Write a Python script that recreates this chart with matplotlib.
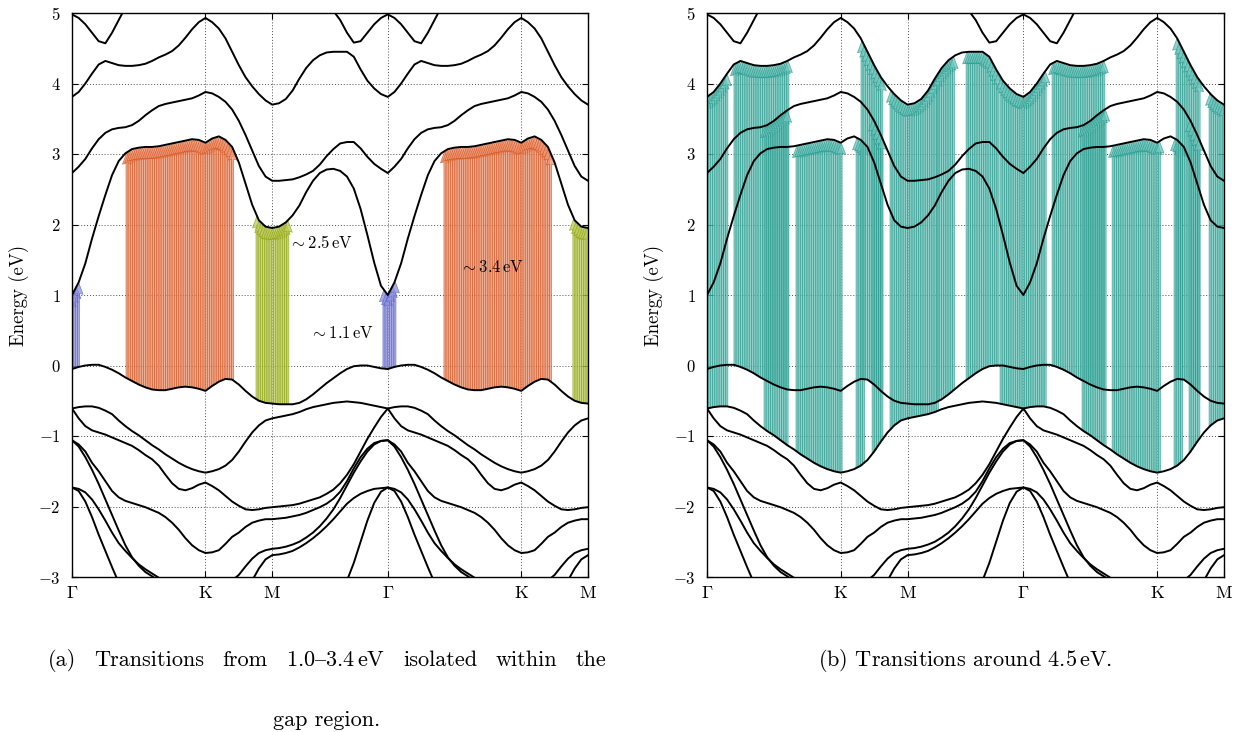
import numpy as np
import matplotlib
matplotlib.use("Agg")
import matplotlib.pyplot as plt

plt.rcParams['mathtext.fontset'] = 'cm'
plt.rcParams['font.family'] = ['cmr10', 'DejaVu Serif']
plt.rcParams['axes.unicode_minus'] = False

# ---------------------------------------------------------------------------
# Band energies (eV) along the hexagonal path.  Γ–K has length 1.
# Leg 1: Γ → K → M  (k = 0 ... 1.5, step 0.05)
# Leg 2: M → Γ      (k = 0 ... 0.866, 18 samples)
# ---------------------------------------------------------------------------
k_gkm = np.linspace(0.0, 1.5, 31)
k_mg = np.linspace(0.0, 0.866, 18)

cb4_gkm = [4.98, 4.93, 4.84, 4.72, 4.60, 4.57, 4.72, 4.90, 5.08, 5.25, 5.35, 5.40, 5.42, 5.44,
           5.46, 5.48, 5.50, 5.52, 5.54, 5.56, 5.58, 5.58, 5.58, 5.58, 5.58, 5.58, 5.58, 5.58,
           5.58, 5.58, 5.60]
cb4_mg = [5.60, 5.55, 5.50, 5.45, 5.40, 5.35, 5.30, 5.20, 5.10, 5.03, 4.90, 4.72, 4.58, 4.60,
          4.72, 4.84, 4.93, 4.98]

cb3_gkm = [3.81, 3.88, 4.00, 4.14, 4.27, 4.32, 4.29, 4.26, 4.25, 4.25, 4.26, 4.28, 4.32, 4.37,
           4.41, 4.46, 4.54, 4.65, 4.77, 4.87, 4.93, 4.87, 4.78, 4.64, 4.45, 4.26, 4.09, 3.96,
           3.85, 3.76, 3.70]
cb3_mg = [3.70, 3.72, 3.78, 3.90, 4.07, 4.22, 4.33, 4.40, 4.44, 4.45, 4.45, 4.45, 4.38, 4.20,
          4.04, 3.93, 3.85, 3.81]

cb2_gkm = [2.73, 2.82, 2.93, 3.08, 3.21, 3.30, 3.35, 3.37, 3.38, 3.41, 3.47, 3.55, 3.62, 3.68,
           3.71, 3.73, 3.75, 3.77, 3.79, 3.83, 3.88, 3.86, 3.81, 3.74, 3.63, 3.47, 3.27, 3.05,
           2.83, 2.68, 2.62]
cb2_mg = [2.62, 2.62, 2.63, 2.64, 2.67, 2.71, 2.76, 2.85, 2.97, 3.07, 3.15, 3.17, 3.17, 3.08,
          2.96, 2.86, 2.79, 2.73]

cb1_gkm = [1.00, 1.18, 1.45, 1.80, 2.12, 2.42, 2.70, 2.90, 3.01, 3.07, 3.09, 3.10, 3.10, 3.11,
           3.13, 3.15, 3.17, 3.19, 3.21, 3.20, 3.16, 3.22, 3.25, 3.20, 3.10, 2.88, 2.58, 2.28,
           2.06, 1.97, 1.95]
cb1_mg = [1.95, 1.97, 2.03, 2.13, 2.27, 2.46, 2.62, 2.73, 2.78, 2.79, 2.76, 2.68, 2.51, 2.22,
          1.85, 1.46, 1.13, 1.00]

vb1_gkm = [-0.05, -0.02, 0.00, 0.01, 0.01, -0.02, -0.06, -0.11, -0.17, -0.22, -0.27, -0.31,
           -0.34, -0.35, -0.35, -0.33, -0.31, -0.30, -0.31, -0.33, -0.36, -0.29, -0.23, -0.19,
           -0.20, -0.27, -0.36, -0.44, -0.50, -0.53, -0.54]
vb1_mg = [-0.54, -0.55, -0.55, -0.55, -0.53, -0.48, -0.41, -0.33, -0.25, -0.18, -0.11, -0.05,
          -0.01, 0.00, 0.00, -0.02, -0.04, -0.05]

vb2_gkm = [-0.61, -0.59, -0.58, -0.58, -0.60, -0.64, -0.69, -0.78, -0.86, -0.93, -0.99, -1.06,
           -1.13, -1.19, -1.26, -1.32, -1.38, -1.43, -1.47, -1.50, -1.52, -1.50, -1.47, -1.42,
           -1.34, -1.22, -1.08, -0.95, -0.85, -0.78, -0.75]
vb2_mg = [-0.75, -0.73, -0.71, -0.69, -0.66, -0.62, -0.59, -0.57, -0.55, -0.53, -0.52, -0.51,
          -0.52, -0.53, -0.55, -0.57, -0.59, -0.61]

vb3_gkm = [-0.61, -0.75, -0.86, -0.92, -0.95, -0.98, -1.02, -1.06, -1.10, -1.14, -1.20, -1.27,
           -1.33, -1.42, -1.55, -1.67, -1.75, -1.77, -1.74, -1.69, -1.66, -1.71, -1.77, -1.85,
           -1.93, -1.99, -2.04, -2.05, -2.04, -2.02, -2.01]
vb3_mg = [-2.01, -2.00, -1.99, -1.98, -1.96, -1.93, -1.90, -1.87, -1.82, -1.76, -1.67, -1.55,
          -1.40, -1.22, -1.04, -0.88, -0.73, -0.61]

vb4_gkm = [-1.06, -1.12, -1.22, -1.38, -1.50, -1.64, -1.78, -1.87, -1.92, -1.95, -1.98, -2.01,
           -2.05, -2.09, -2.15, -2.23, -2.33, -2.45, -2.55, -2.62, -2.66, -2.65, -2.62, -2.53,
           -2.43, -2.37, -2.29, -2.23, -2.20, -2.18, -2.18]
vb4_mg = [-2.18, -2.17, -2.16, -2.14, -2.12, -2.09, -2.05, -2.01, -1.96, -1.89, -1.79, -1.64,
          -1.46, -1.30, -1.18, -1.10, -1.07, -1.06]

vb5_gkm = [-1.06, -1.15, -1.30, -1.48, -1.68, -1.90, -2.12, -2.34, -2.55, -2.72, -2.84, -2.93,
           -2.99, -3.05, -3.12, -3.18, -3.22, -3.25, -3.27, -3.28, -3.28, -3.25, -3.20, -3.12,
           -3.05, -2.97, -2.85, -2.74, -2.66, -2.62, -2.60]
vb5_mg = [-2.60, -2.59, -2.57, -2.54, -2.50, -2.44, -2.37, -2.28, -2.17, -2.04, -1.88, -1.70,
          -1.52, -1.36, -1.22, -1.12, -1.07, -1.06]

vb6_gkm = [-1.73, -1.78, -1.93, -2.15, -2.40, -2.63, -2.86, -3.08, -3.30, -3.45, -3.55, -3.60,
           -3.65, -3.70, -3.72, -3.74, -3.75, -3.76, -3.76, -3.76, -3.76, -3.74, -3.70, -3.62,
           -3.50, -3.35, -3.20, -3.05, -2.88, -2.75, -2.69]
vb6_mg = [-2.69, -2.68, -2.66, -2.63, -2.58, -2.52, -2.45, -2.37, -2.28, -2.18, -2.07, -1.96,
          -1.88, -1.82, -1.78, -1.75, -1.74, -1.73]

vb7_gkm = [-1.73, -1.75, -1.80, -1.90, -2.04, -2.20, -2.37, -2.52, -2.63, -2.73, -2.82, -2.89,
           -2.95, -3.01, -3.08, -3.15, -3.20, -3.25, -3.30, -3.33, -3.35, -3.38, -3.40, -3.42,
           -3.44, -3.46, -3.48, -3.50, -3.50, -3.50, -3.50]
vb7_mg = [-3.50, -3.55, -3.60, -3.62, -3.64, -3.65, -3.62, -3.55, -3.45, -3.33, -3.20, -3.05,
          -2.80, -2.50, -2.20, -1.95, -1.79, -1.73]

band_legs = {
    'cb4': (cb4_gkm, cb4_mg), 'cb3': (cb3_gkm, cb3_mg), 'cb2': (cb2_gkm, cb2_mg),
    'cb1': (cb1_gkm, cb1_mg), 'vb1': (vb1_gkm, vb1_mg), 'vb2': (vb2_gkm, vb2_mg),
    'vb3': (vb3_gkm, vb3_mg), 'vb4': (vb4_gkm, vb4_mg), 'vb5': (vb5_gkm, vb5_mg),
    'vb6': (vb6_gkm, vb6_mg), 'vb7': (vb7_gkm, vb7_mg),
}

# high-symmetry points along Γ–K–M–Γ–K–M
sym_k = [0.0, 1.0, 1.5, 2.366, 3.366, 3.866]
sym_labels = [r'$\Gamma$', r'$\mathrm{K}$', r'$\mathrm{M}$', r'$\Gamma$', r'$\mathrm{K}$', r'$\mathrm{M}$']

# full path: (Γ→K→M) + (M→Γ) + (Γ→K→M)
k_path = np.concatenate([k_gkm, 1.5 + k_mg[1:], 2.366 + k_gkm[1:]])
bands = {name: np.concatenate([np.asarray(a), np.asarray(b)[1:], np.asarray(a)[1:]])
         for name, (a, b) in band_legs.items()}

# optical transitions: (k start, k end, initial band, final band)
gap_blue = [(0.0, 0.052, 'vb1', 'cb1'), (2.337, 2.427, 'vb1', 'cb1')]
gap_orange = [(0.412, 1.206, 'vb1', 'cb1'), (2.794, 3.588, 'vb1', 'cb1')]
gap_green = [(1.386, 1.633, 'vb1', 'cb1'), (3.760, 3.866, 'vb1', 'cb1')]

uv_teal = [
    (0.0, 0.157, 'vb2', 'cb3'), (0.209, 0.606, 'vb1', 'cb3'), (0.434, 0.606, 'vb2', 'cb2'),
    (0.673, 1.017, 'vb2', 'cb1'), (1.122, 1.182, 'vb2', 'cb1'), (1.159, 1.309, 'vb1', 'cb3'),
    (1.242, 1.309, 'vb2', 'cb2'), (1.376, 1.728, 'vb2', 'cb3'), (1.728, 1.855, 'vb1', 'cb3'),
    (1.945, 2.176, 'vb1', 'cb3'), (2.199, 2.536, 'vb2', 'cb3'), (2.588, 2.977, 'vb1', 'cb3'),
    (2.812, 2.977, 'vb2', 'cb2'), (3.037, 3.388, 'vb2', 'cb1'), (3.500, 3.560, 'vb2', 'cb1'),
    (3.515, 3.687, 'vb1', 'cb3'), (3.612, 3.687, 'vb2', 'cb2'), (3.762, 3.866, 'vb2', 'cb3'),
]

ARROW_STEP = 0.0165


def draw_transitions(ax, blocks, face, edge):
    for k0, k1, lo, hi in blocks:
        ks = np.arange(k0, k1 + 1e-9, ARROW_STEP)
        e_lo = np.interp(ks, k_path, bands[lo])
        e_hi = np.interp(ks, k_path, bands[hi])
        ax.quiver(ks, e_lo, np.zeros_like(ks), e_hi - e_lo, angles='xy', scale_units='xy',
                  scale=1, facecolor=face, edgecolor=edge, linewidth=0.5, alpha=0.75,
                  units='dots', width=2.0, headwidth=4.5, headlength=6.0,
                  headaxislength=5.5, zorder=2)


def setup_axes(ax):
    for name in bands:
        ax.plot(k_path, bands[name], color='black', lw=1.4, zorder=3,
                solid_joinstyle='round')
    ax.set_xlim(sym_k[0], sym_k[-1])
    ax.set_ylim(-3, 5)
    ax.set_xticks(sym_k)
    ax.set_xticklabels(sym_labels, fontsize=13)
    yt = list(range(-3, 6))
    ax.set_yticks(yt)
    ax.set_yticklabels([r'$%d$' % v if v >= 0 else r'$-%d$' % abs(v) for v in yt], fontsize=12)
    ax.tick_params(direction='in', top=True, right=True, length=4, width=0.8)
    ax.tick_params(axis='x', pad=6)
    ax.tick_params(axis='y', pad=8)
    ax.grid(True, color='0.3', linestyle=(0, (1, 2)), lw=0.7)
    ax.set_axisbelow(True)
    ax.set_ylabel('Energy (eV)', fontsize=13.5, labelpad=7)
    for s in ax.spines.values():
        s.set_linewidth(1.0)


fig = plt.figure(figsize=(12.43, 7.32), dpi=100)
ax_a = fig.add_axes([72 / 1243, 155 / 732, 516 / 1243, 564 / 732])
ax_b = fig.add_axes([707 / 1243, 155 / 732, 517 / 1243, 564 / 732])

setup_axes(ax_a)
setup_axes(ax_b)

draw_transitions(ax_a, gap_blue, '#8d91dc', '#5a5fc8')
draw_transitions(ax_a, gap_orange, '#ec9470', '#d4501c')
draw_transitions(ax_a, gap_green, '#bccb5a', '#8a9e08')
draw_transitions(ax_b, uv_teal, '#6cc4ba', '#239689')

ax_a.text(1.625, 1.75, r'$\sim 2.5\,\mathrm{eV}$', fontsize=12, va='center', ha='left')
ax_a.text(1.78, 0.46, r'$\sim 1.1\,\mathrm{eV}$', fontsize=12, va='center', ha='left')
ax_a.text(2.905, 1.40, r'$\sim 3.4\,\mathrm{eV}$', fontsize=12, va='center', ha='left')

# captions (first line of (a) is set justified across the column)
CAP_SIZE = 16
renderer = fig.canvas.get_renderer()
words = ['(a)', 'Transitions', 'from', '1.0{3.4$\\,$eV', 'isolated', 'within', 'the']
x_left, x_right, y_line = 48, 606, 660
widths = []
for w in words:
    t = fig.text(0, 0, w, fontsize=CAP_SIZE)
    widths.append(t.get_window_extent(renderer).width)
    t.remove()
gap = (x_right - x_left - sum(widths)) / (len(words) - 1)
x = x_left
for w, wd in zip(words, widths):
    fig.text(x / 1243, 1 - y_line / 732, w, fontsize=CAP_SIZE, ha='left', va='center')
    x += wd + gap
fig.text(327 / 1243, 1 - 720 / 732, 'gap region.', fontsize=CAP_SIZE, ha='center', va='center')
fig.text(965 / 1243, 1 - 660 / 732, '(b) Transitions around 4.5$\\,$eV.', fontsize=CAP_SIZE,
         ha='center', va='center')

fig.savefig('out.png', dpi=100)
